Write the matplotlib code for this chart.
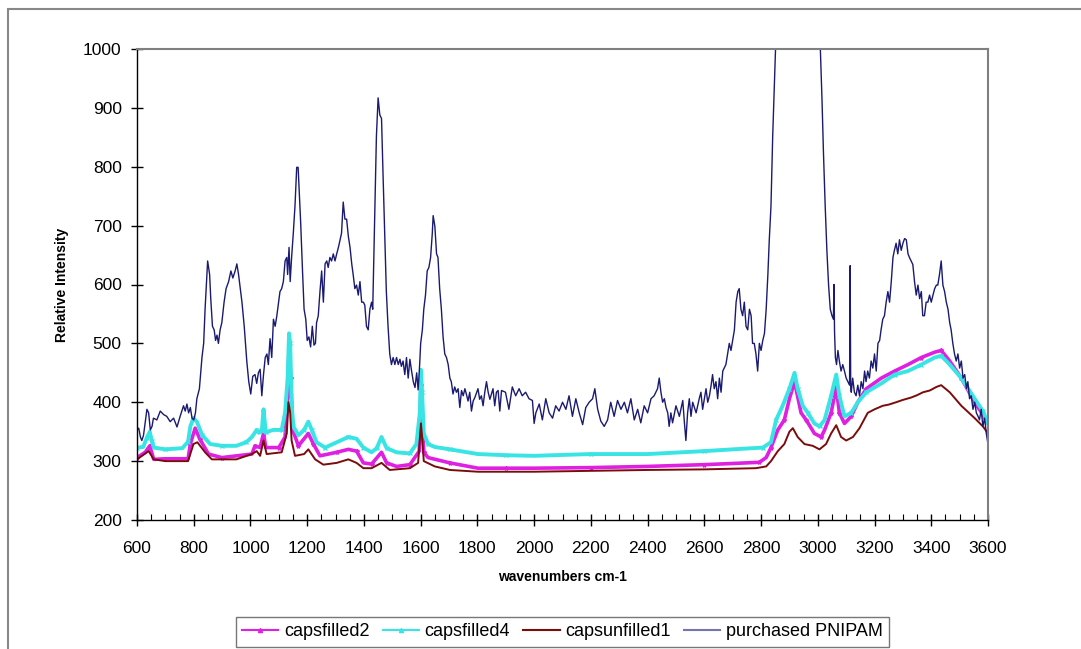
import matplotlib
matplotlib.use("Agg")
import matplotlib.pyplot as plt
from matplotlib.lines import Line2D
from matplotlib.patches import Rectangle
from matplotlib.ticker import MultipleLocator

plt.rcParams['font.family'] = ['Liberation Sans', 'DejaVu Sans']

# ---- data (wavenumber, relative intensity) ----
wn_filled2 = [600, 629, 645, 659, 700, 780, 788, 805, 821, 852, 899, 1005, 1016, 1034, 1046, 1054,
              1100, 1122, 1131, 1136, 1142, 1149, 1169, 1204, 1222, 1245, 1304, 1345, 1374, 1398,
              1427, 1462, 1480, 1515, 1562, 1595, 1601, 1605, 1611, 1626, 1703, 1802, 1902, 2000,
              2200, 2400, 2600, 2700, 2794, 2818, 2835, 2859, 2882, 2900, 2918, 2941, 2959, 2988,
              3012, 3024, 3047, 3065, 3076, 3094, 3118, 3141, 3171, 3224, 3271, 3318, 3365, 3412,
              3435, 3465, 3506, 3553, 3582, 3600]
int_filled2 = [306, 315, 326, 303, 304, 304, 329, 356, 338, 312, 306, 312, 326, 323, 347, 323,
               323, 341, 411, 491, 441, 353, 326, 347, 329, 309, 315, 320, 317, 297,
               295, 315, 297, 291, 294, 317, 429, 382, 315, 306, 297, 288, 288, 288,
               289, 291, 294, 296, 298, 306, 323, 353, 370, 406, 435, 382, 370, 347,
               341, 353, 382, 426, 382, 364, 376, 400, 423, 441, 453, 464, 476, 485,
               488, 470, 441, 400, 379, 364]

wn_filled4 = [600, 622, 635, 645, 652, 659, 700, 760, 780, 788, 799, 811, 830, 858, 899, 950,
              985, 1005, 1022, 1030, 1040, 1046, 1054, 1080, 1110, 1122, 1131, 1136, 1140, 1145,
              1151, 1169, 1189, 1204, 1216, 1233, 1263, 1304, 1345, 1374, 1398, 1427, 1445, 1462,
              1480, 1515, 1562, 1585, 1597, 1601, 1605, 1611, 1626, 1650, 1703, 1802, 1902, 2000,
              2200, 2400, 2600, 2700, 2806, 2835, 2853, 2876, 2900, 2918, 2929, 2947, 2965, 2988,
              3006, 3024, 3047, 3065, 3076, 3094, 3118, 3141, 3171, 3224, 3271, 3318, 3365, 3412,
              3435, 3465, 3506, 3553, 3582, 3600]
int_filled4 = [323, 324, 340, 350, 335, 323, 320, 322, 333, 359, 373, 367, 344, 329, 326, 326,
               332, 341, 353, 348, 352, 388, 349, 353, 353, 382, 441, 517, 500, 400,
               359, 344, 353, 367, 353, 332, 323, 332, 341, 338, 323, 315, 322, 341,
               322, 315, 313, 329, 382, 455, 417, 347, 329, 324, 320, 312, 310, 309,
               312, 312, 317, 320, 323, 332, 370, 394, 423, 450, 423, 394, 382, 364,
               359, 370, 411, 447, 411, 376, 382, 400, 417, 432, 447, 453, 464, 476,
               479, 464, 441, 406, 385, 364]

wn_unfilled1 = [600, 641, 659, 700, 780, 799, 813, 840, 864, 950, 1005, 1022, 1034, 1046, 1057,
                1110, 1128, 1134, 1140, 1145, 1157, 1189, 1204, 1228, 1257, 1304, 1345, 1374,
                1398, 1427, 1462, 1491, 1562, 1591, 1601, 1605, 1611, 1650, 1703, 1802, 1902,
                2000, 2400, 2600, 2782, 2818, 2835, 2859, 2882, 2900, 2912, 2929, 2953, 2982,
                3006, 3029, 3047, 3065, 3082, 3100, 3124, 3147, 3176, 3200, 3229, 3250, 3276,
                3300, 3329, 3350, 3371, 3395, 3418, 3435, 3465, 3506, 3553, 3582, 3600]
int_unfilled1 = [303, 317, 303, 300, 300, 329, 332, 315, 303, 303, 312, 317, 309, 335, 312,
                 315, 347, 400, 382, 335, 309, 312, 320, 303, 294, 297, 303, 297,
                 288, 288, 297, 285, 288, 297, 364, 341, 300, 291, 285, 282, 282,
                 282, 285, 286, 288, 291, 300, 317, 329, 350, 356, 341, 329, 326,
                 320, 329, 347, 361, 341, 335, 341, 356, 382, 388, 394, 396, 400,
                 404, 408, 412, 417, 420, 426, 429, 417, 394, 373, 359, 347]

wn_pnipam = [600, 606, 612, 617, 623, 635, 641, 647, 653, 658, 670, 682, 694, 705, 717, 729, 741,
             752, 764, 770, 776, 782, 788, 794, 800, 806, 811, 820, 829, 835, 840, 849, 856, 860,
             866, 872, 877, 882, 887, 893, 899, 907, 914, 923, 931, 938, 946, 952, 958, 964, 970,
             978, 987, 994, 1001, 1008, 1016, 1022, 1028, 1034, 1040, 1046, 1052, 1058, 1063,
             1069, 1075, 1081, 1087, 1093, 1099, 1104, 1110, 1116, 1122, 1128, 1131, 1136, 1140,
             1145, 1151, 1157, 1163, 1168, 1172, 1177, 1183, 1189, 1195, 1200, 1206, 1212, 1218,
             1224, 1229, 1233, 1239, 1245, 1251, 1257, 1263, 1269, 1274, 1280, 1286, 1292, 1298,
             1304, 1310, 1316, 1321, 1327, 1333, 1339, 1345, 1351, 1357, 1362, 1368, 1374, 1380,
             1386, 1392, 1398, 1403, 1409, 1415, 1421, 1427, 1431, 1435, 1439, 1444, 1450, 1456,
             1462, 1467, 1474, 1479, 1485, 1491, 1497, 1503, 1509, 1515, 1521, 1527, 1532, 1538,
             1544, 1550, 1556, 1562, 1568, 1574, 1580, 1586, 1591, 1596, 1600, 1606, 1611, 1617,
             1623, 1629, 1635, 1641, 1644, 1650, 1656, 1661, 1667, 1673, 1679, 1685, 1691, 1697,
             1703, 1708, 1714, 1720, 1726, 1732, 1738, 1744, 1750, 1756, 1761, 1767, 1773, 1779,
             1785, 1791, 1802, 1808, 1814, 1820, 1826, 1832, 1838, 1844, 1855, 1861, 1867, 1873,
             1879, 1885, 1899, 1911, 1923, 1935, 1947, 1958, 1970, 1982, 1994, 2000, 2006, 2018,
             2029, 2041, 2053, 2065, 2076, 2088, 2100, 2112, 2123, 2135, 2147, 2159, 2171, 2182,
             2194, 2206, 2214, 2224, 2235, 2247, 2259, 2270, 2282, 2294, 2306, 2318, 2329, 2341,
             2353, 2365, 2376, 2388, 2400, 2412, 2423, 2435, 2441, 2447, 2453, 2459, 2465, 2471,
             2476, 2482, 2488, 2500, 2512, 2524, 2529, 2535, 2541, 2547, 2553, 2559, 2571, 2582,
             2588, 2594, 2600, 2606, 2612, 2618, 2624, 2629, 2635, 2641, 2647, 2653, 2659, 2665,
             2676, 2682, 2688, 2694, 2700, 2706, 2712, 2718, 2723, 2729, 2735, 2741, 2747, 2753,
             2759, 2765, 2770, 2776, 2782, 2788, 2794, 2800, 2806, 2812, 2818, 2824, 2829, 2835,
             2841, 2847, 2851, 2870, 2900, 2930, 2960, 2990, 3009, 3015, 3020, 3026, 3032, 3038,
             3044, 3050, 3055, 3057, 3059, 3062, 3066, 3071, 3076, 3082, 3088, 3094, 3100, 3106,
             3112, 3114, 3116, 3118, 3123, 3129, 3135, 3141, 3147, 3153, 3159, 3165, 3170, 3176,
             3182, 3188, 3194, 3200, 3206, 3212, 3218, 3223, 3229, 3235, 3241, 3247, 3253, 3259,
             3265, 3270, 3276, 3282, 3288, 3294, 3300, 3306, 3312, 3318, 3323, 3329, 3335, 3341,
             3347, 3353, 3359, 3365, 3370, 3376, 3382, 3388, 3394, 3400, 3406, 3412, 3418, 3423,
             3429, 3435, 3441, 3447, 3453, 3459, 3465, 3470, 3476, 3482, 3488, 3494, 3500, 3506,
             3512, 3518, 3524, 3529, 3535, 3541, 3547, 3553, 3559, 3565, 3570, 3576, 3582, 3588,
             3594, 3600]
int_pnipam = [353, 356, 341, 335, 344, 388, 382, 353, 359, 373, 370, 385, 379, 376, 367, 373, 358,
              376, 394, 385, 397, 382, 391, 373, 370, 382, 406, 423, 476, 500, 558, 640, 617, 576,
              529, 523, 505, 514, 500, 523, 535, 570, 593, 605, 623, 611, 623, 635, 617, 593, 570,
              529, 470, 435, 414, 444, 447, 432, 450, 456, 411, 447, 476, 482, 464,
              508, 476, 541, 529, 547, 570, 588, 593, 605, 640, 646, 617, 663, 605,
              646, 687, 734, 799, 799, 758, 705, 629, 558, 541, 505, 511, 494, 529,
              497, 500, 535, 547, 588, 623, 570, 635, 640, 629, 646, 640, 652, 640,
              652, 663, 676, 687, 740, 711, 711, 682, 663, 635, 617, 593, 599, 582,
              605, 570, 570, 565, 529, 523, 558, 570, 558, 646, 734, 852, 917, 888,
              882, 793, 676, 588, 529, 482, 464, 476, 464, 476, 464, 473, 461, 470,
              447, 476, 441, 473, 453, 435, 425, 450, 421, 460, 500, 523, 558, 582,
              623, 629, 646, 687, 717, 699, 652, 646, 593, 558, 511, 482, 476, 464,
              441, 435, 414, 426, 417, 423, 391, 420, 411, 423, 414, 402, 417, 385,
              402, 408, 423, 405, 411, 394, 417, 435, 417, 405, 423, 394, 417, 420,
              385, 420, 417, 388, 426, 411, 423, 411, 417, 406, 403, 364, 382, 397,
              370, 406, 382, 373, 394, 385, 400, 388, 411, 376, 406, 382, 362, 391,
              400, 406, 423, 388, 368, 359, 370, 400, 376, 403, 388, 400, 382, 406,
              370, 388, 365, 394, 382, 406, 411, 423, 441, 417, 400, 406, 391, 382,
              359, 382, 365, 394, 376, 403, 370, 335, 382, 406, 376, 400, 382, 406,
              417, 388, 406, 423, 400, 411, 429, 447, 423, 435, 406, 441, 417, 453,
              464, 482, 500, 488, 505, 523, 570, 588, 593, 558, 547, 570, 529, 523,
              558, 547, 500, 500, 482, 453, 500, 488, 505, 517, 558, 617, 676, 734,
              852, 940, 1000, 1250, 1500, 1600, 1500, 1250, 1000, 911, 823, 734, 658, 599,
              558, 547, 541, 600, 520, 476, 464, 488, 470, 453, 464, 453, 441, 435,
              429, 632, 425, 417, 441, 417, 411, 429, 411, 435, 423, 453, 435, 453,
              441, 470, 458, 482, 453, 500, 505, 523, 541, 547, 570, 588, 570, 605,
              646, 658, 670, 652, 676, 658, 670, 678, 676, 652, 646, 640, 634, 605,
              582, 599, 576, 588, 547, 547, 570, 570, 582, 570, 582, 593, 599, 599,
              617, 640, 599, 588, 570, 558, 535, 523, 500, 482, 470, 482, 458, 470,
              441, 447, 423, 435, 406, 411, 388, 400, 382, 376, 370, 388, 359, 373,
              347, 329]

labels = ['capsfilled2', 'capsfilled4', 'capsunfilled1', 'purchased PNIPAM']
colors = ['#E020E0', '#38E4E4', '#7A0C0C', '#1A1A72']

fig = plt.figure(figsize=(10.81, 6.49), dpi=100)
ax = fig.add_axes([137 / 1081, 1 - 520 / 649, (988 - 137) / 1081, (520 - 49) / 649])

ax.plot(wn_filled2, int_filled2, color=colors[0], lw=2.6, marker='*', ms=3, markevery=2)
ax.plot(wn_filled4, int_filled4, color=colors[1], lw=2.8, marker='x', ms=3, markevery=2)
ax.plot(wn_unfilled1, int_unfilled1, color=colors[2], lw=1.4)
ax.plot(wn_pnipam, int_pnipam, color=colors[3], lw=1.0)

ax.set_xlim(600, 3600)
ax.set_ylim(200, 1000)
ax.xaxis.set_major_locator(MultipleLocator(200))
ax.xaxis.set_minor_locator(MultipleLocator(50))
ax.yaxis.set_major_locator(MultipleLocator(100))
ax.tick_params(axis='x', which='major', direction='inout', length=8, width=1, labelsize=12.5, pad=11)
ax.tick_params(axis='x', which='minor', direction='in', length=4, width=0.8)
ax.tick_params(axis='y', which='major', direction='inout', length=8, width=1, labelsize=12.5, pad=7)

for s in ['top', 'right']:
    ax.spines[s].set_color('#808080')
    ax.spines[s].set_linewidth(1.5)
for s in ['left', 'bottom']:
    ax.spines[s].set_color('black')
    ax.spines[s].set_linewidth(1.0)

fig.text(62 / 1081, 1 - 285 / 649, 'Relative Intensity', rotation=90, ha='center', va='center',
         fontsize=10, fontweight='bold')
fig.text(562 / 1081, 1 - 577 / 649, 'wavenumbers cm-1', ha='center', va='center',
         fontsize=10, fontweight='bold')

# legend proxies, thin lines like Excel
handles = [
    Line2D([], [], color=colors[0], lw=1.5, marker='^', ms=3),
    Line2D([], [], color=colors[1], lw=1.5, marker='^', ms=3),
    Line2D([], [], color=colors[2], lw=1.5),
    Line2D([], [], color=colors[3], lw=1.5, alpha=0.6),
]
leg = fig.legend(handles, labels, loc='upper left', bbox_to_anchor=(236 / 1081, 1 - 617 / 649),
                 ncol=4, fontsize=13, frameon=True, fancybox=False, borderaxespad=0,
                 handlelength=2.0, handletextpad=0.3, columnspacing=0.75, borderpad=0.35,
                 markerfirst=True, numpoints=1)
leg.get_frame().set_edgecolor('#555555')
leg.get_frame().set_linewidth(1.0)

# outer chart frame
fig.patches.append(Rectangle((8 / 1081, -0.1), 1.2, 1.1 - 9 / 649, transform=fig.transFigure,
                             fill=False, edgecolor='#888888', lw=1.5))

fig.savefig('out.png', dpi=100)
